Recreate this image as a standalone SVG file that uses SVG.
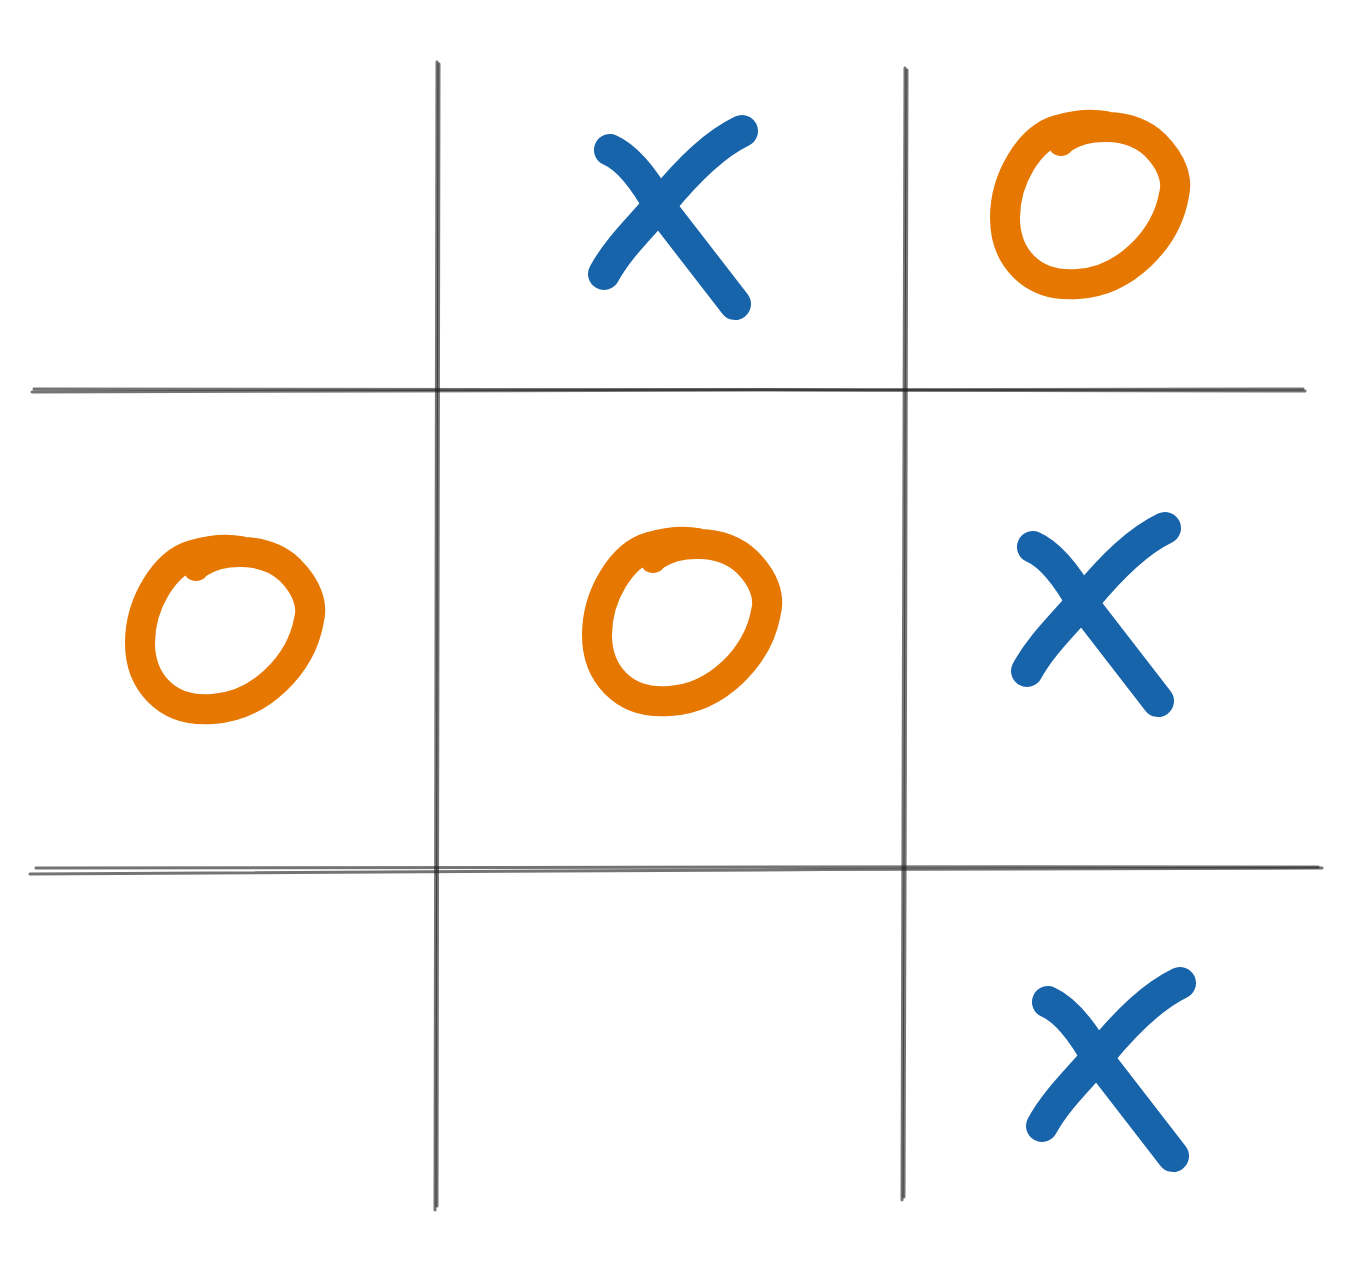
<svg xmlns="http://www.w3.org/2000/svg" width="1350" height="1279" viewBox="0 0 1350 1279">
<style>
.g{fill:none;stroke:#1e1e1e;stroke-opacity:0.62;stroke-width:3;stroke-linecap:round}
.x{fill:none;stroke:#1864ab;stroke-width:32;stroke-linecap:round;stroke-linejoin:round}
.o{fill:none;stroke:#e67700;stroke-width:30;stroke-linecap:round;stroke-linejoin:round}
</style>
<defs>
<g id="xm">
<path class="x" d="M610,150 C628,158 646,182 660,207 L735,304"/>
<path class="x" d="M742,131 C715,144 690,168 662,202 C640,228 618,248 604,274"/>
</g>
<g id="om">
<path class="o" d="M1062,139 C1085,123 1130,121 1155,145 C1172,162 1178,180 1174,195 C1166,240 1125,281 1078,284 C1030,288 1005,255 1005,218 C1005,178 1030,138 1058,130 C1078,124 1095,124 1105,126"/>
<circle cx="1061" cy="143" r="13" fill="#e67700"/>
</g>
</defs>
<rect width="1350" height="1279" fill="#ffffff"/>
<g id="grid">
<path class="g" d="M437,62 C438,400 436,800 435,1210"/>
<path class="g" d="M439,64 C437,420 438,820 437,1206"/>
<path class="g" d="M905,68 C906,400 904,800 902,1200"/>
<path class="g" d="M907,70 C905,420 906,820 904,1197"/>
<path class="g" d="M32,392 C400,390 900,389 1305,391"/>
<path class="g" d="M34,389 C420,388 880,391 1303,389"/>
<path class="g" d="M30,874 C400,871 900,869 1322,868"/>
<path class="g" d="M36,868 C420,868 880,866 1318,867"/>
</g>
<g id="marks">
<use href="#xm"/>
<use href="#xm" transform="translate(423,397)"/>
<use href="#xm" transform="translate(438,852)"/>
<use href="#om"/>
<use href="#om" transform="translate(-865,425)"/>
<use href="#om" transform="translate(-408,417)"/>
</g>
</svg>
